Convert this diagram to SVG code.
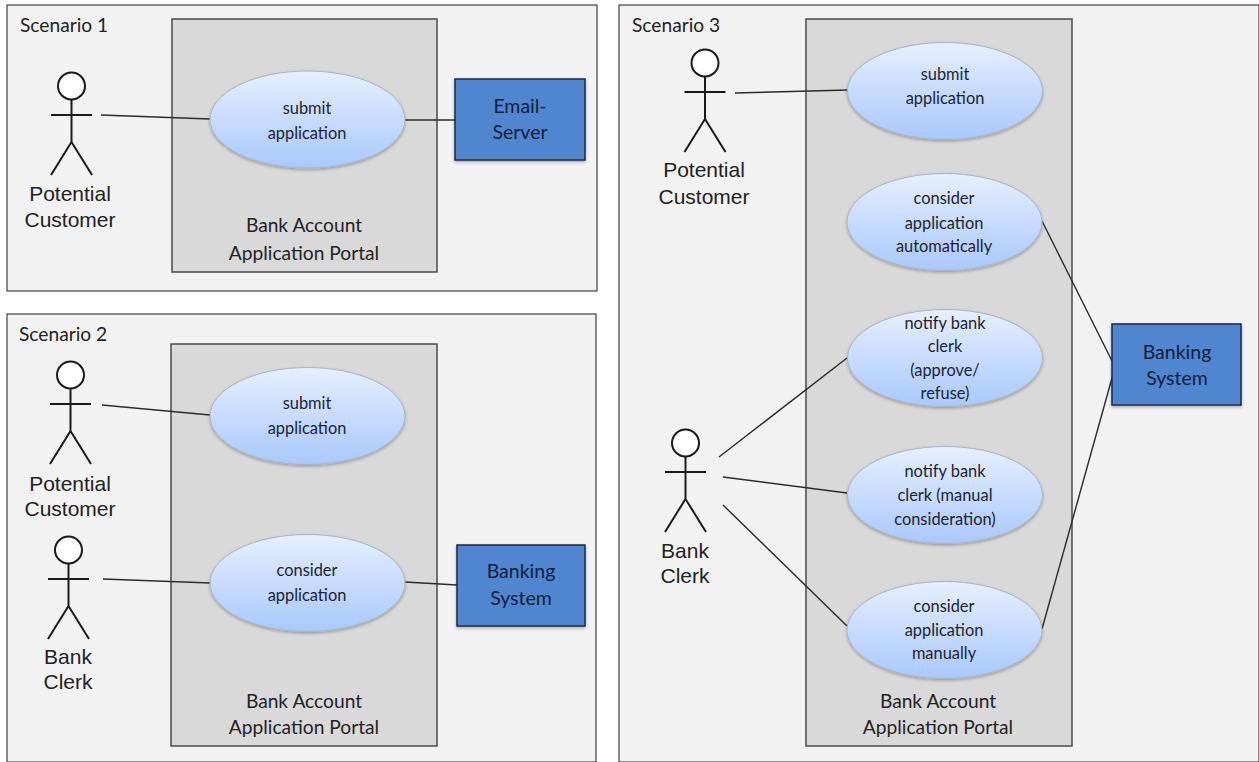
<svg xmlns="http://www.w3.org/2000/svg" width="1259" height="762" viewBox="0 0 1259 762">
<style>
.scn{fill:#f2f2f2;stroke:#3f3f3f;stroke-width:1.2}
.sys{fill:#d9d9d9;stroke:#4a4a4a;stroke-width:1.5}
.uc{fill:url(#g);stroke:#a9b4c4;stroke-width:1;filter:url(#sh)}
.box{fill:#4f86cf;stroke:#1c2a44;stroke-width:1.5;filter:url(#sh)}
.t{font-family:Lato,"Noto Sans",sans-serif;font-size:16.4px;fill:#1d2333;text-anchor:middle}
.l{font-family:Lato,"Noto Sans",sans-serif;font-size:19.2px;fill:#222;text-anchor:middle}
.s{font-family:Lato,"Noto Sans",sans-serif;font-size:19.2px;fill:#222}
.b{font-family:Lato,"Noto Sans",sans-serif;font-size:19.5px;fill:#10203c;text-anchor:middle}
.a{font-family:"Liberation Sans",Arial,sans-serif;font-size:21px;fill:#222;text-anchor:middle}
.fig{fill:none;stroke:#1a1a1a;stroke-width:2}
.c{fill:none;stroke:#2b2b2b;stroke-width:1.4}
</style>
<defs>
<linearGradient id="g" x1="0" y1="0" x2="0" y2="1"><stop offset="0" stop-color="#e6efff"/><stop offset="1" stop-color="#a9c8fb"/></linearGradient>
<filter id="sh" x="-5%" y="-5%" width="110%" height="115%"><feDropShadow dx="0" dy="1.500" stdDeviation="1.500" flood-color="#000" flood-opacity="0.3"/></filter>
<g id="actor"><circle cx="0" cy="-29" r="13.5" fill="#fff" stroke="#1a1a1a" stroke-width="2"/><path class="fig" d="M0-15.500V27M-20.500 0H20.500M0 27L-20.500 60M0 27L20.500 60"/></g>
</defs>
<g id="scenario-1">
<rect class="scn" x="7" y="5" width="590" height="286"/>
<text class="s" x="20" y="32">Scenario 1</text>
<rect class="sys" x="172" y="19" width="265" height="253"/>
<text class="l" x="304" y="232">Bank Account</text><text class="l" x="304" y="260">Application Portal</text>
</g>
<g id="scenario-2">
<rect class="scn" x="7" y="314" width="589" height="448"/>
<text class="s" x="19" y="341">Scenario 2</text>
<rect class="sys" x="171" y="344" width="266" height="402"/>
<text class="l" x="304" y="708">Bank Account</text><text class="l" x="304" y="734">Application Portal</text>
</g>
<g id="scenario-3">
<rect class="scn" x="619" y="5" width="640" height="757"/>
<text class="s" x="632" y="32">Scenario 3</text>
<rect class="sys" x="806" y="19" width="266" height="727"/>
<text class="l" x="938" y="708">Bank Account</text><text class="l" x="938" y="734">Application Portal</text>
</g>
<g id="connectors">
<path class="c" d="M101 115L210 119"/>
<path class="c" d="M405 120H455"/>
<path class="c" d="M102 405L210 415"/>
<path class="c" d="M103 579L210 583"/>
<path class="c" d="M405 582L457 585"/>
<path class="c" d="M735 93L848 90"/>
<path class="c" d="M1042 221L1112 361"/>
<path class="c" d="M1042 629L1112 378"/>
<path class="c" d="M719 457L847 358"/>
<path class="c" d="M723 477L847 493"/>
<path class="c" d="M723 505L847 626"/>
</g>
<g id="actor-s1-customer"><use href="#actor" x="71.500" y="115"/><text class="a" x="70" y="201">Potential</text><text class="a" x="70" y="227">Customer</text></g>
<g id="actor-s2-customer"><use href="#actor" x="70.500" y="404"/><text class="a" x="70" y="491">Potential</text><text class="a" x="70" y="516">Customer</text></g>
<g id="actor-s2-clerk"><use href="#actor" x="68.500" y="579"/><text class="a" x="68" y="664">Bank</text><text class="a" x="68" y="689">Clerk</text></g>
<g id="actor-s3-customer"><use href="#actor" x="705" y="92"/><text class="a" x="704" y="177">Potential</text><text class="a" x="704" y="204">Customer</text></g>
<g id="actor-s3-clerk"><use href="#actor" x="685.500" y="472"/><text class="a" x="685" y="558">Bank</text><text class="a" x="685" y="583">Clerk</text></g>
<g id="uc-s1-submit"><ellipse class="uc" cx="307.500" cy="119.500" rx="97.500" ry="48.500"/><text class="t" x="307" y="114">submit</text><text class="t" x="307" y="139">application</text></g>
<g id="uc-s2-submit"><ellipse class="uc" cx="307.500" cy="416" rx="97.500" ry="48.500"/><text class="t" x="307" y="409">submit</text><text class="t" x="307" y="434">application</text></g>
<g id="uc-s2-consider"><ellipse class="uc" cx="307.500" cy="583" rx="97.500" ry="48.500"/><text class="t" x="307" y="576">consider</text><text class="t" x="307" y="601">application</text></g>
<g id="uc-s3-submit"><ellipse class="uc" cx="945" cy="91" rx="97.500" ry="48.500"/><text class="t" x="945" y="80">submit</text><text class="t" x="945" y="104">application</text></g>
<g id="uc-s3-auto"><ellipse class="uc" cx="944.500" cy="222" rx="97.500" ry="48.500"/><text class="t" x="944" y="204">consider</text><text class="t" x="944" y="229">application</text><text class="t" x="944" y="252">automatically</text></g>
<g id="uc-s3-notify-approve"><ellipse class="uc" cx="945" cy="358" rx="97.500" ry="48.500"/><text class="t" x="945" y="329">notify bank</text><text class="t" x="945" y="352">clerk</text><text class="t" x="945" y="376">(approve/</text><text class="t" x="945" y="399">refuse)</text></g>
<g id="uc-s3-notify-manual"><ellipse class="uc" cx="945" cy="495" rx="97.500" ry="48.500"/><text class="t" x="945" y="477">notify bank</text><text class="t" x="945" y="501">clerk (manual</text><text class="t" x="945" y="525">consideration)</text></g>
<g id="uc-s3-manual"><ellipse class="uc" cx="944.500" cy="630" rx="97.500" ry="48.500"/><text class="t" x="944" y="612">consider</text><text class="t" x="944" y="636">application</text><text class="t" x="944" y="659">manually</text></g>
<g id="box-email"><rect class="box" x="455" y="79" width="130" height="81"/><text class="b" x="520" y="113">Email-</text><text class="b" x="520" y="139">Server</text></g>
<g id="box-banking-2"><rect class="box" x="457" y="545" width="128" height="81"/><text class="b" x="521" y="578">Banking</text><text class="b" x="521" y="605">System</text></g>
<g id="box-banking-3"><rect class="box" x="1112" y="324" width="129" height="81"/><text class="b" x="1177" y="359">Banking</text><text class="b" x="1177" y="385">System</text></g>
</svg>
